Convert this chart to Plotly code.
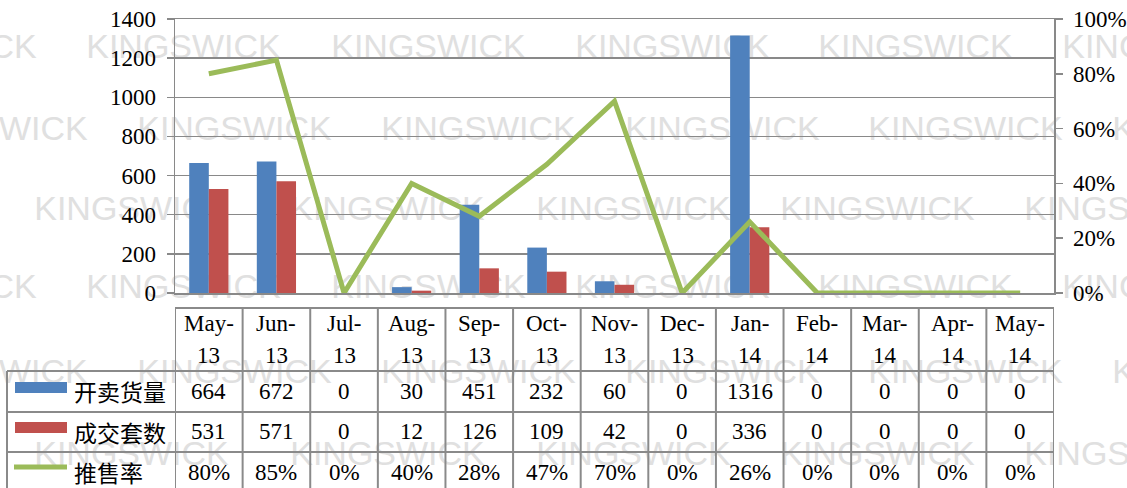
import plotly.graph_objects as go

# ---------------- data ----------------
categories = ["May-13", "Jun-13", "Jul-13", "Aug-13", "Sep-13", "Oct-13", "Nov-13",
              "Dec-13", "Jan-14", "Feb-14", "Mar-14", "Apr-14", "May-14"]
supply = [664, 672, 0, 30, 451, 232, 60, 0, 1316, 0, 0, 0, 0]      # 开卖货量
deals = [531, 571, 0, 12, 126, 109, 42, 0, 336, 0, 0, 0, 0]        # 成交套数
rate = [0.80, 0.85, 0.00, 0.40, 0.28, 0.47, 0.70, 0.00, 0.26, 0.00, 0.00, 0.00, 0.00]  # 推售率
series_names = ["开卖货量", "成交套数", "推售率"]
left_ticks = [0, 200, 400, 600, 800, 1000, 1200, 1400]
right_ticks = [0, 0.2, 0.4, 0.6, 0.8, 1.0]
watermark_text = "KINGSWICK"

# ---------------- style ----------------
BLUE = "#4F81BD"
RED = "#C0504D"
GREEN = "#9BBB59"
GRID = "#898989"
WM = "#e0e0e0"
SERIF = "Liberation Serif"
CJK = "Noto Sans CJK SC"
FS = 23

W, H = 1127, 488
L, R, T, B = 175, 1054, 19, 293


def px(x):
    return (x - L) / (R - L)


def py(y):
    return (B - y) / (B - T)


fig = go.Figure()
fig.add_trace(go.Bar(x=categories, y=supply, name=series_names[0],
                     marker=dict(color=BLUE, line=dict(width=0))))
fig.add_trace(go.Bar(x=categories, y=deals, name=series_names[1],
                     marker=dict(color=RED, line=dict(width=0))))
fig.add_trace(go.Scatter(x=categories, y=rate, name=series_names[2], yaxis="y2",
                         mode="lines", line=dict(color=GREEN, width=5)))

shapes = []
annotations = []

# watermarks (behind the marks)
wm_rows = [
    (43, [-158, 86, 331, 575, 818, 1062]),
    (125, [-107, 137, 381, 625, 868, 1112]),
    (205, [34, 290, 536, 780, 1024]),
    (283, [-158, 86, 331, 575, 818, 1062]),
    (368, [-107, 137, 381, 625, 868, 1112]),
    (450, [34, 290, 536, 780, 1024]),
]
for yc, xs in wm_rows:
    for xs0 in xs:
        shapes.append(dict(
            type="rect", xref="paper", yref="paper", layer="below",
            x0=px(xs0 - 10), x1=px(xs0 + 205), y0=py(yc + 15), y1=py(yc - 15),
            line=dict(width=0), fillcolor="rgba(0,0,0,0)",
            label=dict(text=watermark_text, textposition="middle center",
                       font=dict(family="Liberation Sans", size=34, color=WM)),
        ))

# ---------------- data table ----------------
TBL = "#8a8a8a"
TW = 2
y_head_top, y_r1, y_r2, y_r3, y_bot = 308, 371, 412, 452, 492
n = len(categories)
# column separators
for k in range(n + 1):
    shapes.append(dict(type="line", xref="x", yref="paper",
                       x0=k - 0.5, x1=k - 0.5, y0=py(y_head_top), y1=py(y_bot),
                       line=dict(color=TBL, width=TW)))
# header top
shapes.append(dict(type="line", xref="paper", yref="paper",
                   x0=px(L), x1=px(R), y0=py(y_head_top), y1=py(y_head_top),
                   line=dict(color=TBL, width=TW)))
# row separators incl. label column
for yy in (y_r1, y_r2, y_r3):
    shapes.append(dict(type="line", xref="paper", yref="paper",
                       x0=px(7), x1=px(R), y0=py(yy), y1=py(yy),
                       line=dict(color=TBL, width=TW)))
shapes.append(dict(type="line", xref="paper", yref="paper",
                   x0=px(7), x1=px(7), y0=py(y_r1), y1=py(y_bot),
                   line=dict(color=TBL, width=TW)))

# legend keys
shapes.append(dict(type="rect", xref="paper", yref="paper",
                   x0=px(15), x1=px(67), y0=py(393), y1=py(382),
                   line=dict(width=0), fillcolor=BLUE))
shapes.append(dict(type="rect", xref="paper", yref="paper",
                   x0=px(15), x1=px(67), y0=py(433), y1=py(422),
                   line=dict(width=0), fillcolor=RED))
shapes.append(dict(type="line", xref="paper", yref="paper",
                   x0=px(14), x1=px(67), y0=py(467), y1=py(467),
                   line=dict(color=GREEN, width=5)))

row_y = [391, 432, 472]
for name, yc in zip(series_names, row_y):
    annotations.append(dict(xref="paper", yref="paper", x=px(72), y=py(yc),
                            text=name, showarrow=False, xanchor="left", yanchor="middle",
                            font=dict(family=CJK, size=FS, color="black")))

for i, cat in enumerate(categories):
    mon, yr = cat.split("-")
    annotations.append(dict(xref="x", yref="paper", x=cat, y=py(323), text=mon + "-",
                            showarrow=False, xanchor="center", yanchor="middle",
                            font=dict(family=SERIF, size=FS, color="black")))
    annotations.append(dict(xref="x", yref="paper", x=cat, y=py(355), text=yr,
                            showarrow=False, xanchor="center", yanchor="middle",
                            font=dict(family=SERIF, size=FS, color="black")))
    vals = [str(supply[i]), str(deals[i]), f"{round(rate[i] * 100)}%"]
    for v, yc in zip(vals, row_y):
        annotations.append(dict(xref="x", yref="paper", x=cat, y=py(yc), text=v,
                                showarrow=False, xanchor="center", yanchor="middle",
                                font=dict(family=SERIF, size=FS, color="black")))

fig.update_layout(
    width=W, height=H,
    margin=dict(l=L, r=W - R, t=T, b=H - B, autoexpand=False),
    paper_bgcolor="white", plot_bgcolor="rgba(0,0,0,0)",
    showlegend=False, barmode="group", bargap=0.42, bargroupgap=0,
    shapes=shapes, annotations=annotations,
    xaxis=dict(type="category", categoryorder="array", categoryarray=categories,
               range=[-0.5, n - 0.5], showticklabels=False, ticks="",
               showgrid=False, showline=True, linecolor=GRID, linewidth=1.5, mirror=True,
               zeroline=False),
    yaxis=dict(range=[0, 1400], tickvals=left_ticks, showgrid=True, gridcolor=GRID,
               gridwidth=1.5, showline=True, linecolor=GRID, linewidth=1.5,
               ticks="outside", ticklen=7, tickcolor=GRID, tickwidth=1.5,
               ticklabelstandoff=6, zeroline=False,
               tickfont=dict(family=SERIF, size=FS, color="black")),
    yaxis2=dict(range=[0, 1], tickvals=right_ticks, tickformat=".0%", overlaying="y",
                side="right", showgrid=False, showline=True, linecolor=GRID, linewidth=1.5,
                ticks="outside", ticklen=7, tickcolor=GRID, tickwidth=1.5,
                ticklabelstandoff=6, zeroline=False,
                tickfont=dict(family=SERIF, size=FS, color="black")),
)

fig.write_html("out.html",
               config={"displayModeBar": False, "staticPlot": True},
               post_script="document.body.style.margin='0';document.body.style.overflow='hidden';")
